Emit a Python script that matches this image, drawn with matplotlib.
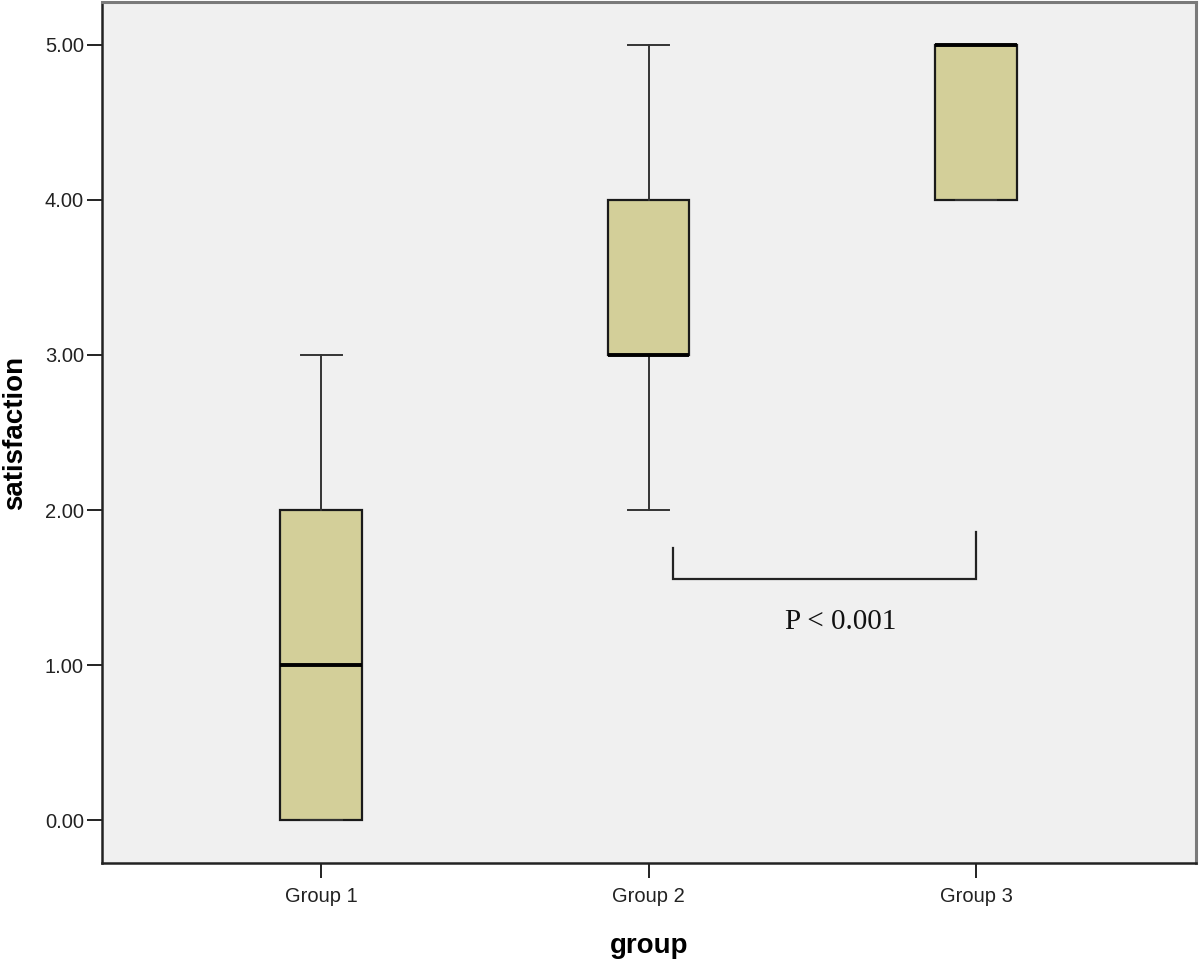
import numpy as np
import matplotlib.pyplot as plt

# box statistics
groups = ['Group 1', 'Group 2', 'Group 3']
whislo = [0.0, 2.0, 4.0]
q1 = [0.0, 3.0, 4.0]
med = [1.0, 3.0, 5.0]
q3 = [2.0, 4.0, 5.0]
whishi = [3.0, 5.0, 5.0]

# bracket between group 2 and group 3
bracket_x = [2.075, 3.0]
bracket_y = 1.555
bracket_tops = [1.755, 1.858]
p_label = 'P < 0.001'

stats = []
for i, g in enumerate(groups):
    stats.append({'label': g, 'whislo': whislo[i], 'q1': q1[i], 'med': med[i],
                  'q3': q3[i], 'whishi': whishi[i], 'fliers': []})

fig = plt.figure(figsize=(12, 9.59), dpi=100)
ax = fig.add_axes([0.085, 0.1, 0.9117, 0.898])
ax.set_facecolor('#f0f0f0')

pos = np.arange(1, len(groups) + 1)
ax.bxp(stats, positions=pos, widths=0.25, patch_artist=True, showcaps=True,
       boxprops=dict(facecolor='#d3cf99', edgecolor='#1a1a1a', linewidth=1.6),
       medianprops=dict(color='black', linewidth=2.8),
       whiskerprops=dict(color='#333333', linewidth=1.4),
       capprops=dict(color='#333333', linewidth=1.4),
       capwidths=0.125)

ax.plot([bracket_x[0], bracket_x[0], bracket_x[1], bracket_x[1]],
        [bracket_tops[0], bracket_y, bracket_y, bracket_tops[1]],
        color='#222222', linewidth=1.6, solid_joinstyle='miter')
ax.text(2.588, 1.277, p_label, family='Liberation Serif', fontsize=21,
        ha='center', va='center', color='#111111')

ax.set_xlim(0.331, 3.672)
ax.set_ylim(-0.277, 5.277)
ax.set_yticks([0, 1, 2, 3, 4, 5])
ax.set_yticklabels(['{:.2f}'.format(v) for v in [0, 1, 2, 3, 4, 5]])
ax.set_xticks(pos)
ax.set_xticklabels(groups)
ax.tick_params(axis='both', labelsize=14.5, length=11, width=1.4,
               color='#222222', labelcolor='#222222', direction='out')
ax.tick_params(axis='y', pad=2)
ax.tick_params(axis='x', pad=6)

for s in ['left', 'bottom']:
    ax.spines[s].set_linewidth(1.8)
    ax.spines[s].set_color('#222222')
for s in ['top', 'right']:
    ax.spines[s].set_linewidth(2.2)
    ax.spines[s].set_color('#7a7a7a')

ax.set_xlabel('group', fontsize=20, fontweight='bold', labelpad=20,
              family='Liberation Sans')
fig.text(15 / 1200, 1 - 433 / 959, 'satisfaction', rotation=90, fontsize=20,
         fontweight='bold', family='Liberation Sans', ha='center', va='center')
for lbl in ax.get_xticklabels() + ax.get_yticklabels():
    lbl.set_family('Liberation Sans')

plt.savefig('out.png', dpi=100)
